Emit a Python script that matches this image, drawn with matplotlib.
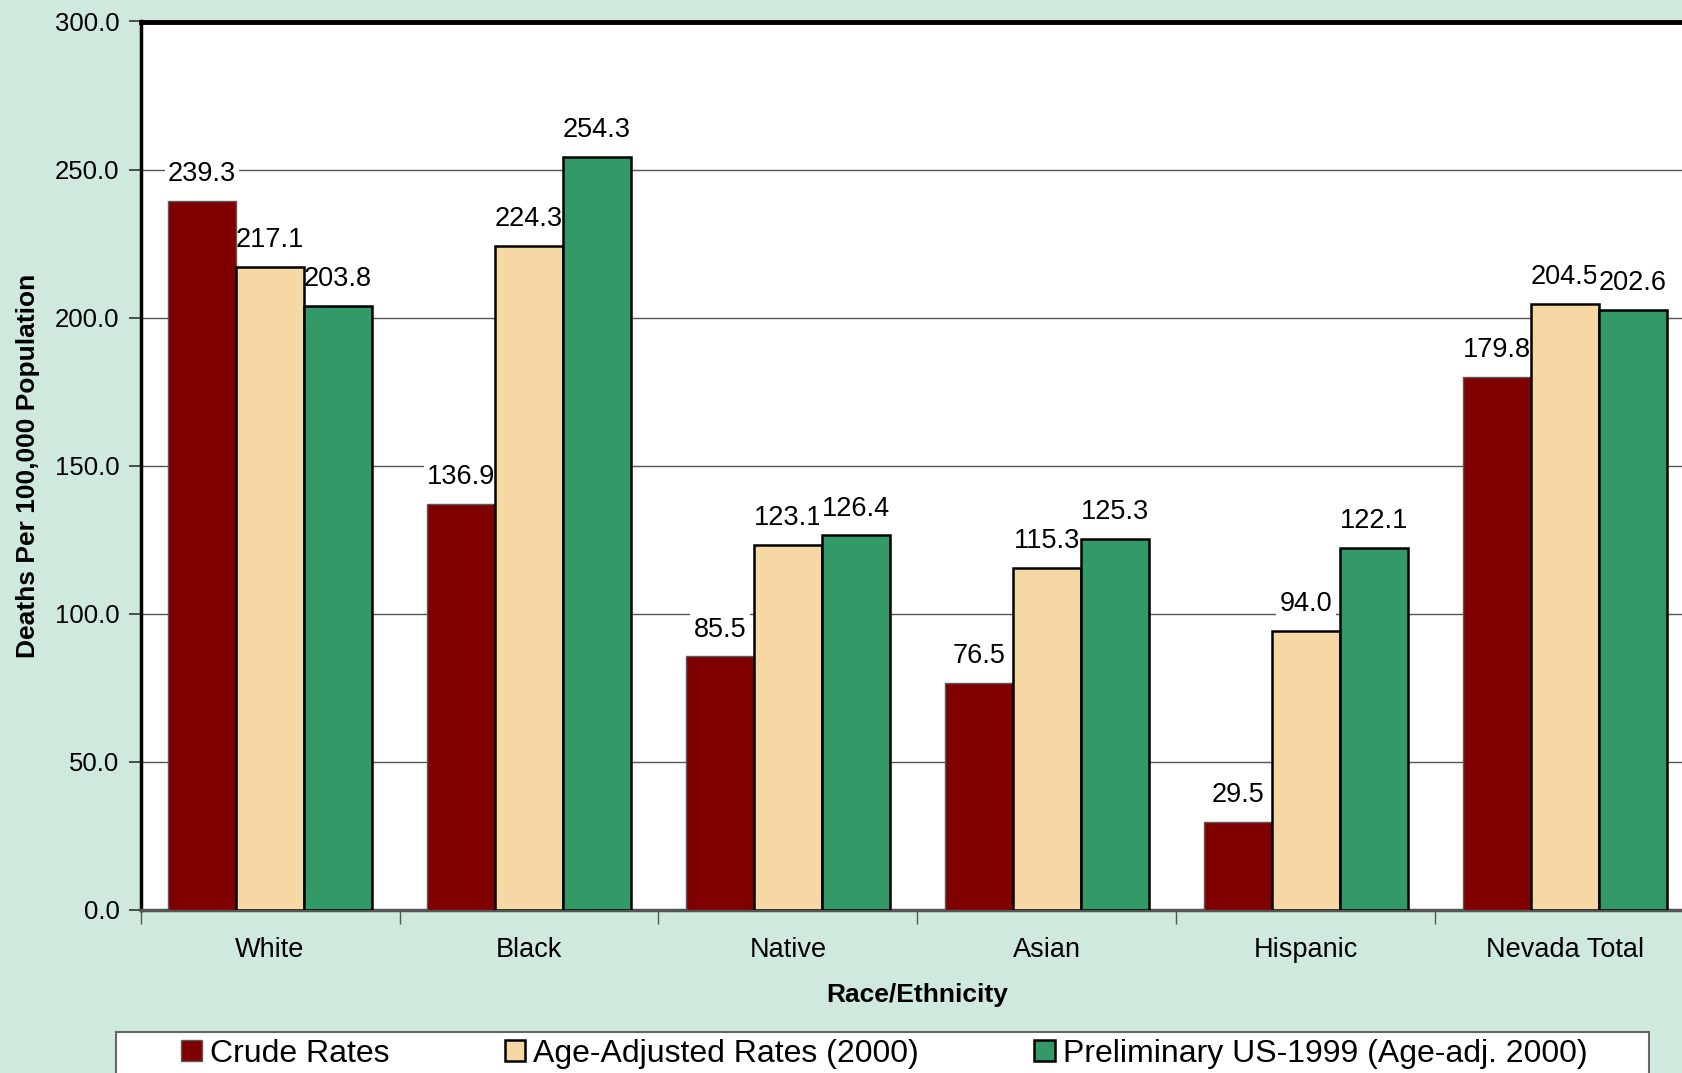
import numpy as np
import matplotlib.pyplot as plt
from matplotlib.patches import Rectangle

plt.rcParams['font.family'] = ['Liberation Sans', 'DejaVu Sans']

groups = ["White", "Black", "Native", "Asian", "Hispanic", "Nevada Total"]
crude = [239.3, 136.9, 85.5, 76.5, 29.5, 179.8]
age_adj = [217.1, 224.3, 123.1, 115.3, 94.0, 204.5]
us_1999 = [203.8, 254.3, 126.4, 125.3, 122.1, 202.6]
series_names = ["Crude Rates", "Age-Adjusted Rates (2000)",
                "Preliminary US-1999 (Age-adj. 2000)"]
yticks = [0, 50, 100, 150, 200, 250, 300]

bg = "#CFEADC"
colors = ["#800000", "#F5D8A3", "#339966"]
edges = ["#5a5a5a", "black", "black"]
edge_w = [1.0, 1.8, 1.8]

W, H = 1682, 1073
fig = plt.figure(figsize=(W / 100, H / 100), dpi=100, facecolor=bg)
ax = fig.add_axes([140.5 / W, 1 - 909.6 / H, (1694.5 - 140.5) / W, (909.6 - 21.5) / H])
ax.set_facecolor("white")

x = np.arange(len(groups))
bw = 0.2625
for i, vals in enumerate([crude, age_adj, us_1999]):
    bars = ax.bar(x + (i - 1) * bw, vals, bw, color=colors[i], edgecolor=edges[i],
                  linewidth=edge_w[i], label=series_names[i], zorder=3)
    for b, v in zip(bars, vals):
        # labels sit under the bars so their white boxes only hide gridlines
        ax.annotate(f"{v:.1f}", (b.get_x() + b.get_width() / 2, v),
                    xytext=(0, 10), textcoords="offset points",
                    ha="center", va="bottom", fontsize=19.5, zorder=2.5,
                    bbox=dict(boxstyle="square,pad=0.12", fc="white", ec="none"))

ax.set_ylim(0, 300)
ax.set_xlim(-0.5, len(groups) - 0.5)
ax.set_yticks(yticks)
ax.set_yticklabels([f"{t:.1f}" for t in yticks], fontsize=18.5)
ax.yaxis.grid(True, color="#555555", linewidth=1.0, zorder=0)
ax.set_axisbelow(True)
ax.tick_params(axis="y", length=9, width=1.2, color="#333333", pad=6)

ax.set_xticks(np.arange(len(groups) + 1) - 0.5)
ax.set_xticklabels([])
ax.set_xticks(x, minor=True)
ax.set_xticklabels(groups, minor=True, fontsize=19.5)
ax.tick_params(axis="x", which="major", length=10, width=1.0, color="#555555")
ax.tick_params(axis="x", which="minor", length=0, pad=20)

ax.spines["left"].set_linewidth(2.5)
ax.spines["top"].set_linewidth(3.5)
ax.spines["bottom"].set_color("#555555")
ax.spines["bottom"].set_linewidth(2.5)
ax.spines["right"].set_visible(False)

ax.set_ylabel("Deaths Per 100,000 Population", fontsize=19, fontweight="bold", labelpad=11)
ax.set_xlabel("Race/Ethnicity", fontsize=19, fontweight="bold", labelpad=14)

# legend frame (runs off the bottom edge)
fig.patches.append(Rectangle((116 / W, -0.02), (1649 - 116) / W, 1 - 1032 / H + 0.02,
                             transform=fig.transFigure, fc="white", ec="#666666", lw=1.5))
handles, labels = ax.get_legend_handles_labels()
fig.legend(handles, labels, loc="center", bbox_to_anchor=((177 + 1592) / 2 / W, 1 - 1054 / H),
           ncol=3, frameon=False, fontsize=23, handlelength=0.65, handleheight=0.65,
           handletextpad=0.25, columnspacing=3.6)

fig.savefig("out.png", dpi=100, facecolor=bg)
